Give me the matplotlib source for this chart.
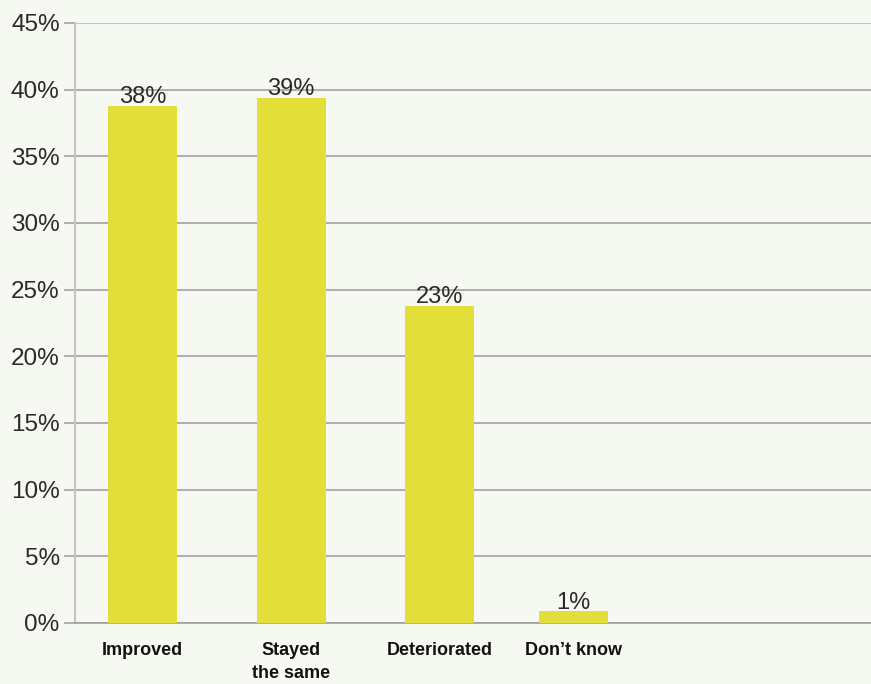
import matplotlib
matplotlib.use("Agg")
import matplotlib.pyplot as plt

# data
categories = ["Improved", "Stayed\nthe same", "Deteriorated", "Don\u2019t know"]
values = [38.8, 39.4, 23.8, 0.9]
value_labels = ["38%", "39%", "23%", "1%"]
y_ticks = [0, 5, 10, 15, 20, 25, 30, 35, 40, 45]

# layout
bar_pos = [0, 1, 2, 2.9]
bar_width = 0.465
bg = "#f6f8f2"
bar_color = "#e3df3a"
grid_color = "#9a9a9a"
text_color = "#2a2a2a"

plt.rcParams["font.family"] = ["Liberation Sans", "DejaVu Sans"]

fig = plt.figure(figsize=(8.71, 6.84), dpi=100, facecolor=bg)
ax = fig.add_axes([0.0861, 0.0892, 0.9139, 0.8772], facecolor=bg)

ax.set_ylim(0, 45)
ax.set_xlim(-0.455, 4.906)
ax.set_yticks(y_ticks)
ax.set_yticklabels([f"{t}%" for t in y_ticks], fontsize=17.5, color=text_color)
ax.yaxis.grid(True, color=grid_color, linewidth=1.1)
ax.set_axisbelow(True)
ax.tick_params(axis="y", length=8, width=1.1, color=grid_color, pad=3)

for s in ["top", "right"]:
    ax.spines[s].set_visible(False)
ax.spines["left"].set_color("#c4c4c4")
ax.spines["left"].set_linewidth(1.5)
ax.spines["bottom"].set_color(grid_color)
ax.spines["bottom"].set_linewidth(1.1)
ax.axhline(45, color="#c4c4c4", linewidth=1.5, zorder=2)

ax.bar(bar_pos, values, width=bar_width, color=bar_color, zorder=3)
for x, v, lab in zip(bar_pos, values, value_labels):
    ax.text(x, v - 0.2, lab, ha="center", va="bottom", fontsize=17,
            color=text_color, zorder=4)

ax.set_xticks(bar_pos)
ax.set_xticklabels(categories, fontsize=13, fontweight="bold",
                   color="#111111", linespacing=1.45, va="top")
ax.tick_params(axis="x", length=0, pad=14)

fig.savefig("out.png", dpi=100, facecolor=bg)
